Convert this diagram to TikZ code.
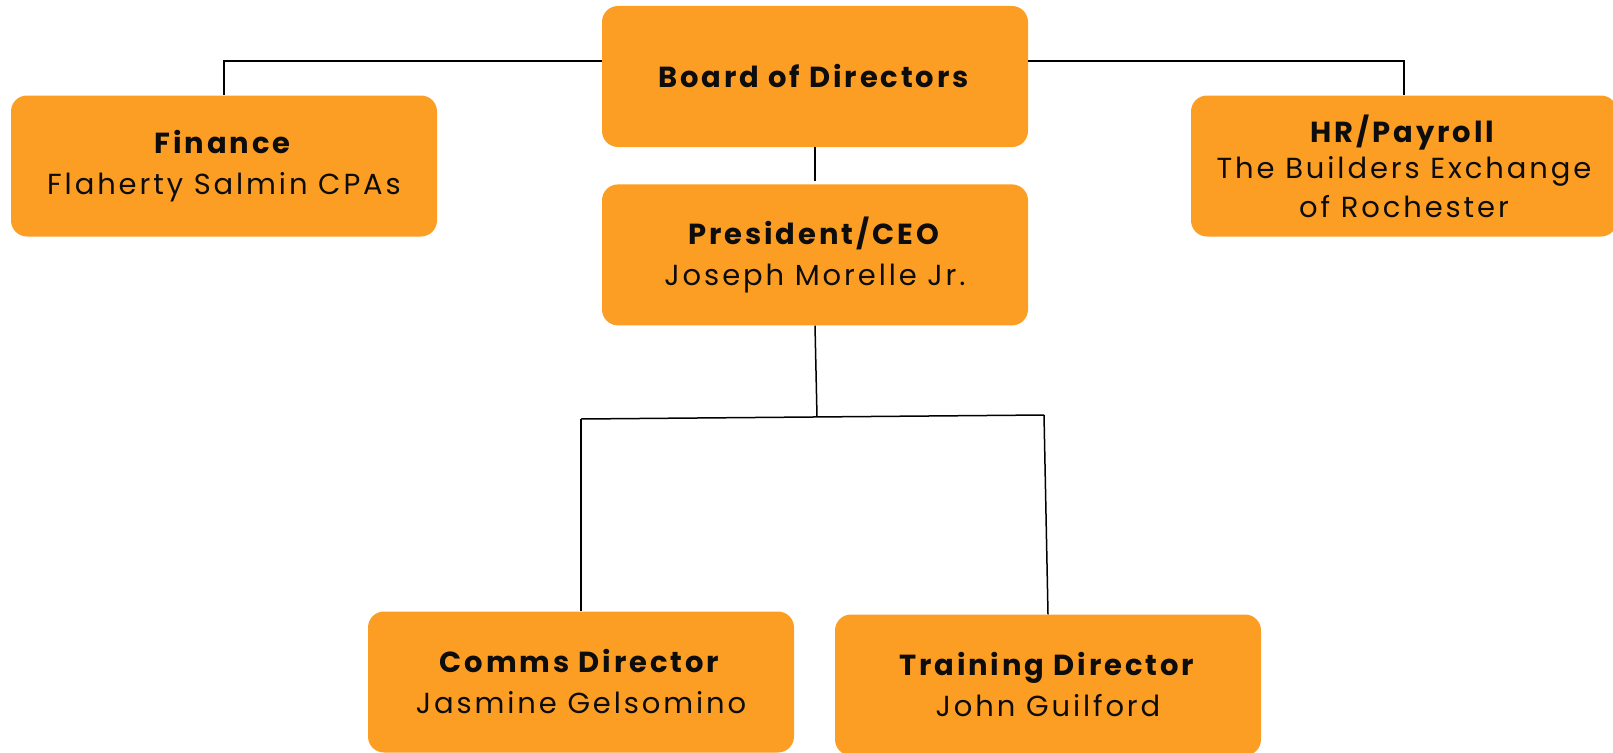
\documentclass[tikz,border=0pt]{standalone}
\usepackage{fontspec}
\setmainfont{Poppins}[LetterSpace=10]
\usepackage{xcolor}
\usepackage{tikz}
\usetikzlibrary{positioning}

\definecolor{boxorange}{HTML}{FD9E24}

\begin{document}
\begin{tikzpicture}
	[x=1pt, y=-1pt, node distance = 1cm, font=\fontsize{29}{35}\selectfont,
	% STYLES
	% The unit style is used for every box of the chart
	unit/.style={rectangle, fill=boxorange, rounded corners=16pt, inner sep=5pt,
		minimum width=426pt, minimum height=141pt, align=center, text=black!95},
	% The link style is used for the thin black connectors
	link/.style={draw=black, line width=1.5pt}]
	
	\useasboundingbox (0,0) rectangle (1613,752);
	
	% top row
	\node [unit] (Board) at (815,76.5) {\textbf{Board of Directors}};
	\node [unit] (Finance) at (224,166) {\textbf{Finance}\\[6pt]Flaherty Salmin CPAs};
	\node [unit] (HR) at (1404,166) {\textbf{HR/Payroll}\\[1pt]The Builders Exchange\\[4pt]of Rochester};
	% centre
	\node [unit, below = 37pt of Board] (President) {\textbf{President/CEO}\\[6pt]Joseph Morelle Jr.};
	% bottom row
	\node [unit] (Comms) at (581,682) {\textbf{Comms Director}\\[6pt]Jasmine Gelsomino};
	\node [unit] (Training) at (1048,685) {\textbf{Training Director}\\[6pt]John Guilford};
	
	% branch points under the President
	\coordinate (Split) at (817,417);
	\coordinate (SplitL) at (581,419);
	\coordinate (SplitR) at (1044,415);
	
	% Draw the links from the board
	\draw [link] (Board.west |- 0,61) -| (Finance.north);
	\draw [link] (Board.east |- 0,61) -| (HR.north);
	\draw [link, shorten >=3pt] (Board.south) -- (President.north);
	% Draw the links down to the directors
	\path [link]
	(President.south) edge (Split)
	(SplitL) edge (SplitR)
	(SplitL) edge (Comms.north)
	(SplitR) edge (Training.north);
	
\end{tikzpicture}
\end{document}
